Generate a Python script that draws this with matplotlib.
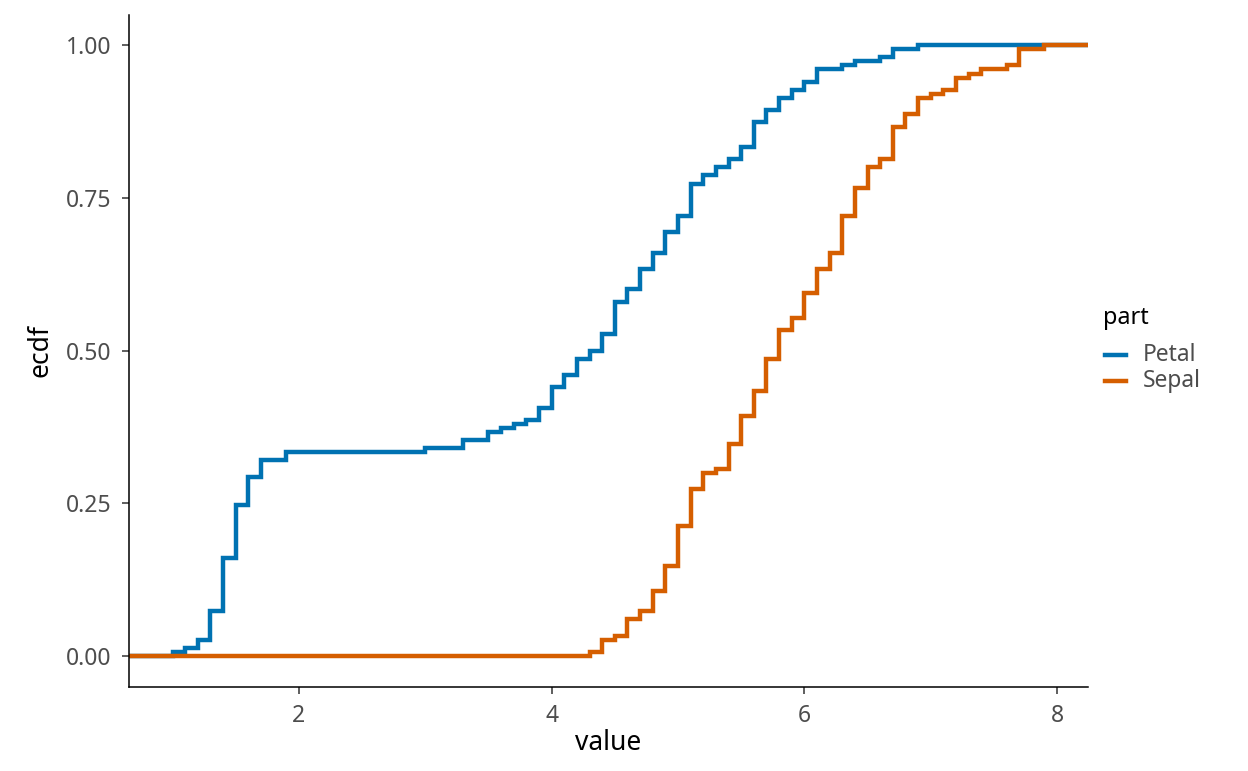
import matplotlib
matplotlib.use("Agg")
import matplotlib.pyplot as plt
import numpy as np
from matplotlib.lines import Line2D

# iris lengths: distinct values and how many flowers share each
petal_values = [1.0, 1.1, 1.2, 1.3, 1.4, 1.5, 1.6, 1.7, 1.9, 3.0, 3.3, 3.5, 3.6, 3.7,
                3.8, 3.9, 4.0, 4.1, 4.2, 4.3, 4.4, 4.5, 4.6, 4.7, 4.8, 4.9, 5.0, 5.1,
                5.2, 5.3, 5.4, 5.5, 5.6, 5.7, 5.8, 5.9, 6.0, 6.1, 6.3, 6.4, 6.6, 6.7, 6.9]
petal_counts = [1, 1, 2, 7, 13, 13, 7, 4, 2, 1, 2, 2, 1, 1,
                1, 3, 5, 3, 4, 2, 4, 8, 3, 5, 4, 5, 4, 8,
                2, 2, 2, 3, 6, 3, 3, 2, 2, 3, 1, 1, 1, 2, 1]
sepal_values = [4.3, 4.4, 4.5, 4.6, 4.7, 4.8, 4.9, 5.0, 5.1, 5.2, 5.3, 5.4, 5.5, 5.6,
                5.7, 5.8, 5.9, 6.0, 6.1, 6.2, 6.3, 6.4, 6.5, 6.6, 6.7, 6.8, 6.9, 7.0,
                7.1, 7.2, 7.3, 7.4, 7.6, 7.7, 7.9]
sepal_counts = [1, 3, 1, 4, 2, 5, 6, 10, 9, 4, 1, 6, 7, 6,
                8, 7, 3, 6, 6, 4, 9, 7, 5, 2, 8, 3, 4, 1,
                1, 3, 1, 1, 1, 4, 1]

parts = ["Petal", "Sepal"]
colors = {"Petal": "#0072B2", "Sepal": "#D55E00"}
series = {"Petal": (petal_values, petal_counts), "Sepal": (sepal_values, sepal_counts)}

plt.rcParams["font.family"] = ["Noto Sans", "DejaVu Sans"]

W, H = 1248, 771
fig = plt.figure(figsize=(W / 100, H / 100), dpi=100)
ax = fig.add_axes([129 / W, (H - 686.5) / H, (1088 - 129) / W, (686.5 - 14.5) / H])

xmin, xmax = 0.655, 8.245
for p in parts:
    vals, cnts = series[p]
    ecdf = np.cumsum(cnts) / np.sum(cnts)
    xs = np.concatenate([[xmin], vals, [xmax]])
    ys = np.concatenate([[0.0], ecdf, [1.0]])
    ax.step(xs, ys, where="post", color=colors[p], lw=3.2, solid_joinstyle="miter")

ax.set_xlim(xmin, xmax)
ax.set_ylim(-0.05, 1.05)
ax.set_xticks([2, 4, 6, 8])
ax.set_yticks([0, 0.25, 0.5, 0.75, 1.0])
ax.set_yticklabels(["0.00", "0.25", "0.50", "0.75", "1.00"])
for s in ("top", "right"):
    ax.spines[s].set_visible(False)
for s in ("left", "bottom"):
    ax.spines[s].set_linewidth(1.1)
ax.tick_params(length=4.8, width=1.1, color="#333333", labelcolor="#4D4D4D",
               labelsize=16.5, pad=8)
ax.set_xlabel("value", fontsize=19, labelpad=0.5)
ax.set_ylabel("ecdf", fontsize=19, labelpad=8)

# legend drawn by hand to the right of the panel
fig.text(1103 / W, 1 - 318 / H, "part", fontsize=16.8, ha="left", va="center")
for i, p in enumerate(parts):
    y = 1 - (355 + 26 * i) / H
    fig.add_artist(Line2D([1105 / W, 1126 / W], [y, y], transform=fig.transFigure,
                          color=colors[p], lw=3.2))
    fig.text(1143 / W, y, p, fontsize=16.4, color="#4D4D4D", ha="left", va="center")

fig.savefig("out.png", dpi=100)
